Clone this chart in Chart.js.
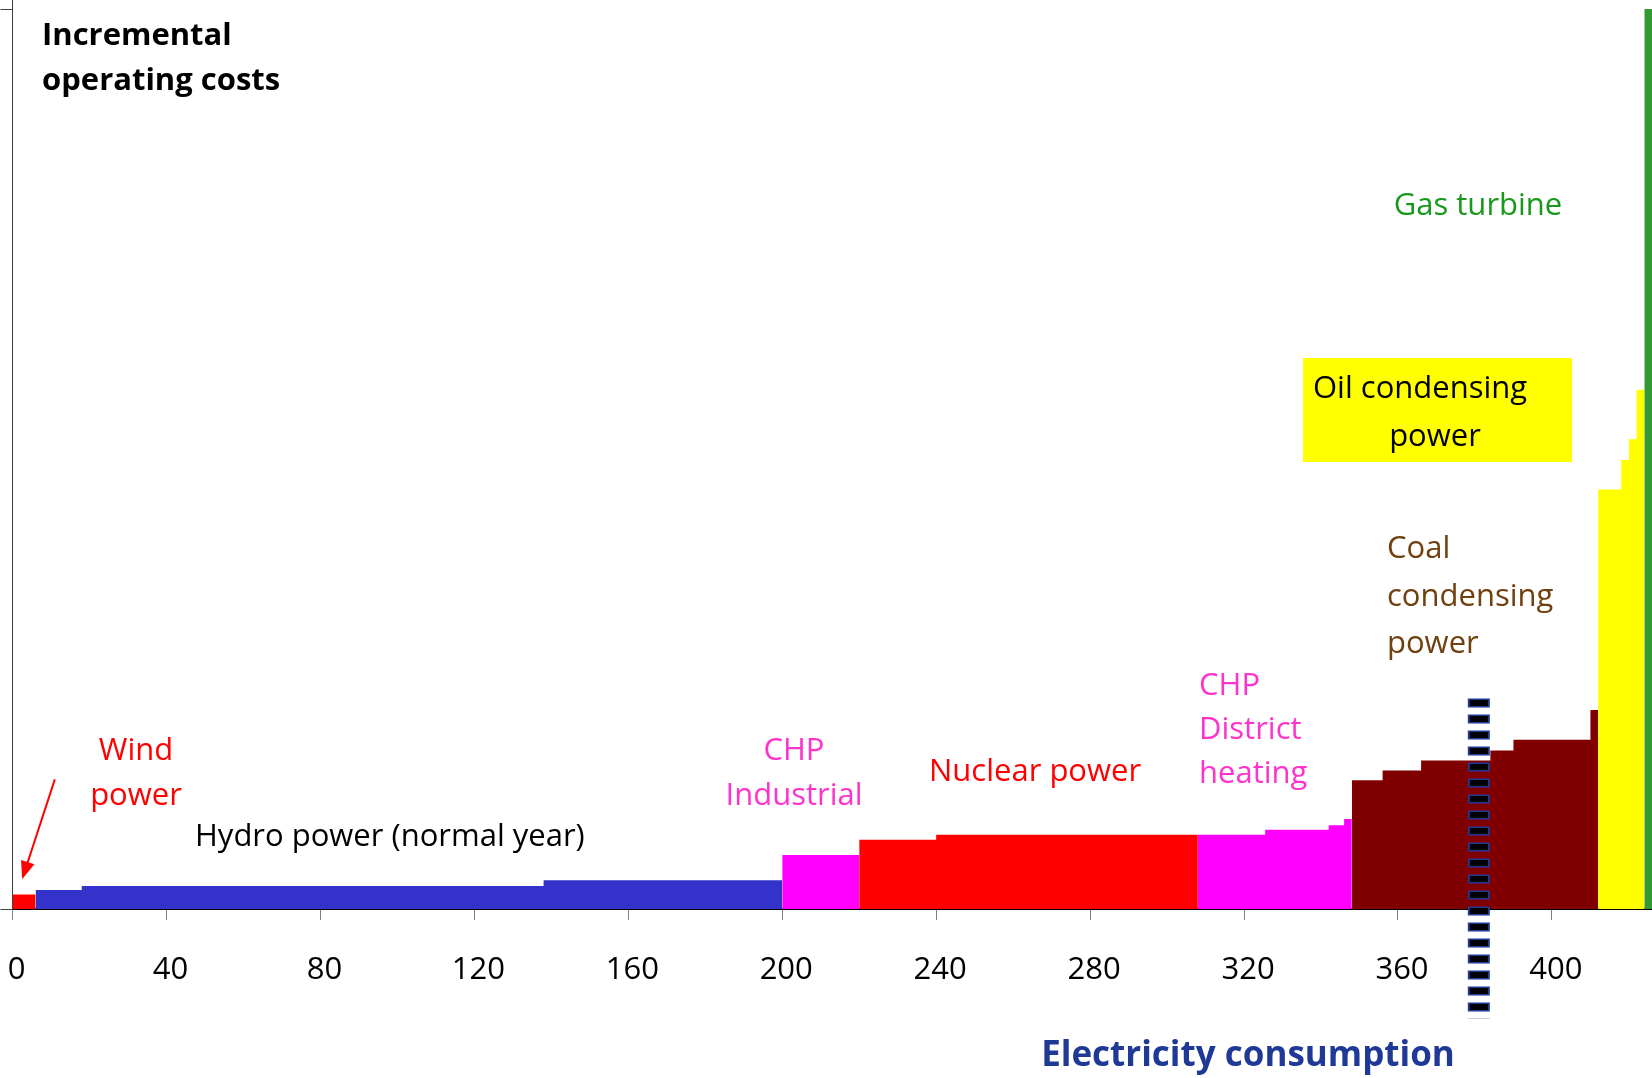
<!DOCTYPE html>
<html>
<head>
<meta charset="utf-8">
<script src="https://cdn.jsdelivr.net/npm/chart.js@4"></script>
<style>
  body { margin: 0; background: #fff; }
  canvas { display: block; }
</style>
</head>
<body>
<canvas id="myChart" width="1652" height="1078"></canvas>
<script>
// merit order steps: x = cumulative capacity edges, y = cost of each step
var windX = [0, 6];
var windY = [1.6];
var hydroX = [6, 18, 138, 200];
var hydroY = [2.1, 2.55, 3.2];
var chpIndX = [200, 220];
var chpIndY = [6.0];
var nuclearX = [220, 240, 308];
var nuclearY = [7.7, 8.25];
var chpDhX = [308, 325.5, 342, 346, 348];
var chpDhY = [8.25, 8.8, 9.3, 10.0];
var coalX = [348, 356, 366, 384, 390, 410, 412];
var coalY = [14.3, 15.4, 16.5, 17.6, 18.8, 22.1];
var oilX = [412, 418, 420, 422, 424];
var oilY = [46.6, 49.9, 52.2, 57.7];
var gasX = [424, 426];
var gasY = [100];

// demand level (dashed line)
var demandX = 381;
var demandY = [23.4, -12.2];

var xTicks = [0, 40, 80, 120, 160, 200, 240, 280, 320, 360, 400];
var yTicks = [0, 100];

var FONT = "'Open Sans', 'Noto Sans', sans-serif";

function steps(xs, ys) {
    var pts = [];
    for (var i = 0; i < ys.length; i++) {
        pts.push({x: xs[i], y: ys[i]});
        pts.push({x: xs[i + 1], y: ys[i]});
    }
    return pts;
}

function area(label, xs, ys, color) {
    return {
        label: label,
        data: steps(xs, ys),
        backgroundColor: color,
        borderWidth: 0,
        pointRadius: 0,
        fill: 'origin',
        order: 2
    };
}

var labelsPlugin = {
    id: 'labels',
    afterDatasetsDraw: function (chart) {
        var c = chart.ctx;
        var xs = chart.scales.x, ys = chart.scales.y;
        c.save();

        // wind arrow
        var x1 = xs.getPixelForValue(11), y1 = ys.getPixelForValue(14.4);
        var x2 = xs.getPixelForValue(2.5), y2 = ys.getPixelForValue(3.3);
        var ang = Math.atan2(y2 - y1, x2 - x1);
        c.strokeStyle = '#FF0000';
        c.fillStyle = '#FF0000';
        c.lineWidth = 2;
        c.beginPath();
        c.moveTo(x1, y1);
        c.lineTo(x2 - 14 * Math.cos(ang), y2 - 14 * Math.sin(ang));
        c.stroke();
        c.beginPath();
        c.moveTo(x2, y2);
        c.lineTo(x2 - 18 * Math.cos(ang) + 7 * Math.sin(ang), y2 - 18 * Math.sin(ang) - 7 * Math.cos(ang));
        c.lineTo(x2 - 18 * Math.cos(ang) - 7 * Math.sin(ang), y2 - 18 * Math.sin(ang) + 7 * Math.cos(ang));
        c.closePath();
        c.fill();

        // oil box
        c.fillStyle = '#FFFF00';
        c.fillRect(1303, 358, 269, 104);

        var txt = [
            ['Incremental', 42, 45, 'left', '#000', 'bold 31px'],
            ['operating costs', 42, 90, 'left', '#000', 'bold 31px'],
            ['Wind', 136, 760, 'center', '#FF0000', '31px'],
            ['power', 136, 805, 'center', '#FF0000', '31px'],
            ['Hydro power (normal year)', 195, 846, 'left', '#000', '31px'],
            ['CHP', 794, 760, 'center', '#FF33CC', '31px'],
            ['Industrial', 794, 805, 'center', '#FF33CC', '31px'],
            ['Nuclear power', 929, 781, 'left', '#FF0000', '31px'],
            ['CHP', 1199, 695, 'left', '#FF33CC', '31px'],
            ['District', 1199, 739, 'left', '#FF33CC', '31px'],
            ['heating', 1199, 783, 'left', '#FF33CC', '31px'],
            ['Coal', 1387, 558, 'left', '#70400F', '31px'],
            ['condensing', 1387, 606, 'left', '#70400F', '31px'],
            ['power', 1387, 653, 'left', '#70400F', '31px'],
            ['Oil condensing', 1313, 398, 'left', '#000', '31px'],
            ['power', 1435, 446, 'center', '#000', '31px'],
            ['Gas turbine', 1478, 215, 'center', '#17991B', '31px'],
            ['Electricity consumption', 1248, 1066, 'center', '#1F3996', 'bold 35px']
        ];
        c.textBaseline = 'alphabetic';
        txt.forEach(function (t) {
            c.font = t[5] + ' ' + FONT;
            c.fillStyle = t[4];
            c.textAlign = t[3];
            c.fillText(t[0], t[1], t[2]);
        });
        c.restore();
    }
};

var ctx = document.getElementById('myChart').getContext('2d');

var myChart = new Chart(ctx, {
    type: 'line',
    data: {
        datasets: [
            area('Wind power', windX, windY, '#FF0000'),
            area('Hydro power', hydroX, hydroY, '#3333CC'),
            area('CHP Industrial', chpIndX, chpIndY, '#FF00FF'),
            area('Nuclear power', nuclearX, nuclearY, '#FF0000'),
            area('CHP District heating', chpDhX, chpDhY, '#FF00FF'),
            area('Coal condensing power', coalX, coalY, '#800000'),
            area('Oil condensing power', oilX, oilY, '#FFFF00'),
            area('Gas turbine', gasX, gasY, '#339933'),
            {
                label: 'Demand',
                data: [{x: demandX, y: demandY[0]}, {x: demandX, y: demandY[1]}],
                borderColor: '#1F3996',
                borderWidth: 22,
                borderDash: [9, 7],
                pointRadius: 0,
                fill: false,
                clip: false,
                order: 1
            },
            {
                label: 'Demand inner',
                data: [{x: demandX, y: demandY[0]}, {x: demandX, y: demandY[1]}],
                borderColor: '#000000',
                borderWidth: 18,
                borderDash: [6, 10],
                borderDashOffset: -1.5,
                pointRadius: 0,
                fill: false,
                clip: false,
                order: 0
            }
        ]
    },
    options: {
        responsive: false,
        animation: false,
        devicePixelRatio: 1,
        layout: { padding: 0 },
        plugins: {
            legend: { display: false },
            tooltip: { enabled: false }
        },
        scales: {
            x: {
                type: 'linear',
                min: 0,
                max: 426,
                afterBuildTicks: function (s) { s.ticks = xTicks.map(function (v) { return {value: v}; }); },
                afterFit: function (s) {
                    s.height = 169;
                    s.paddingLeft = 0;
                    s.paddingRight = 0;
                },
                grid: { drawOnChartArea: false, tickLength: 11, color: '#808080' },
                border: { color: '#000', width: 2 },
                ticks: {
                    color: '#000',
                    padding: 32,
                    labelOffset: 4,
                    maxRotation: 0,
                    font: { family: FONT, size: 31 }
                }
            },
            y: {
                min: 0,
                max: 101,
                afterBuildTicks: function (s) { s.ticks = yTicks.map(function (v) { return {value: v}; }); },
                afterFit: function (s) {
                    s.width = 12.5;
                    s.paddingTop = 0;
                    s.paddingBottom = 0;
                },
                grid: { drawOnChartArea: false, tickLength: 12, color: '#404040' },
                border: { color: '#404040', width: 1 },
                ticks: { display: false }
            }
        }
    },
    plugins: [labelsPlugin]
});
</script>
</body>
</html>
